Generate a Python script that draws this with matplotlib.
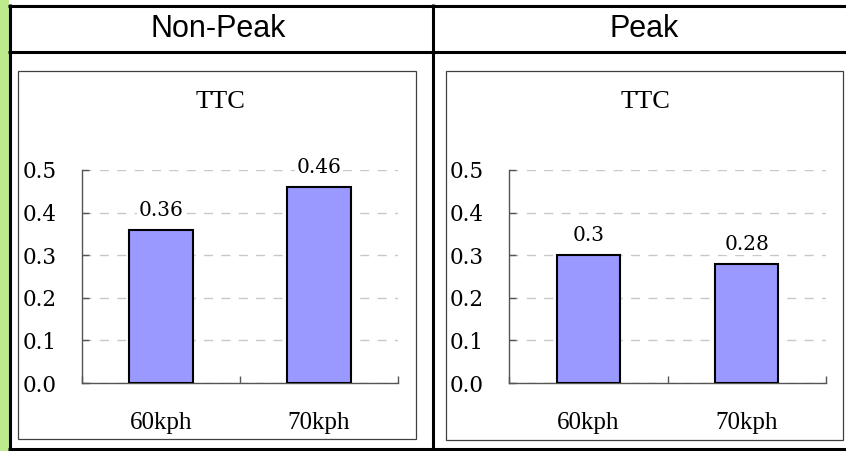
import matplotlib
matplotlib.use("Agg")
import matplotlib.pyplot as plt
from matplotlib.lines import Line2D
from matplotlib.patches import Rectangle

# Data
categories = ["60kph", "70kph"]
panel_titles = ["Non-Peak", "Peak"]
chart_title = "TTC"
ttc_nonpeak = [0.36, 0.46]
ttc_peak = [0.30, 0.28]
value_labels_nonpeak = ["0.36", "0.46"]
value_labels_peak = ["0.3", "0.28"]
y_ticks = [0.0, 0.1, 0.2, 0.3, 0.4, 0.5]

W, H = 846, 451
fig = plt.figure(figsize=(W / 100, H / 100), dpi=100)
fig.patch.set_facecolor("white")


def fx(px):
    return px / W


def fy(py):
    return 1 - py / H


# Green margin strip on the left
fig.add_artist(Rectangle((0, 0), fx(8.5), 1, transform=fig.transFigure,
                         facecolor="#BEEA8E", edgecolor="none", zorder=0))


def hline(y, x0, x1, lw=2.2, color="black"):
    fig.add_artist(Line2D([fx(x0), fx(x1)], [fy(y), fy(y)], transform=fig.transFigure,
                          color=color, linewidth=lw, solid_capstyle="butt", zorder=5))


def vline(x, y0, y1, lw=2.2, color="black"):
    fig.add_artist(Line2D([fx(x), fx(x)], [fy(y0), fy(y1)], transform=fig.transFigure,
                          color=color, linewidth=lw, solid_capstyle="butt", zorder=5))


# Table grid
hline(5.5, 8, 846)
hline(51.5, 8, 846)
hline(448.5, 8, 846)
vline(9.8, 4, 451)
vline(432.5, 4, 450)

# Column headers
fig.text(fx(218), fy(29), panel_titles[0], ha="center", va="center",
         fontsize=22, family="Liberation Sans")
fig.text(fx(644), fy(29), panel_titles[1], ha="center", va="center",
         fontsize=22, family="Liberation Sans")

# Chart frames
for (x0, x1, y0, y1) in [(18, 416, 71, 439), (446, 843, 71, 440)]:
    fig.add_artist(Rectangle((fx(x0), fy(y1)), fx(x1 - x0), (y1 - y0) / H,
                             transform=fig.transFigure, facecolor="none",
                             edgecolor="#404040", linewidth=0.9, zorder=4))


def draw_panel(rect, values, labels, title_x):
    ax = fig.add_axes(rect)
    ax.set_xlim(0, 2)
    ax.set_ylim(0, 0.5)
    pos = [i + 0.5 for i in range(len(categories))]
    ax.bar(pos, values, width=0.4, color="#9999FF", edgecolor="black",
           linewidth=1.5, zorder=3)
    ax.set_axisbelow(True)
    ax.yaxis.grid(True, color="#C8C8C8", linewidth=1.0, dashes=(6.5, 6))
    ax.xaxis.grid(False)
    for s in ["top", "right"]:
        ax.spines[s].set_visible(False)
    for s in ["left", "bottom"]:
        ax.spines[s].set_color("#555555")
        ax.spines[s].set_linewidth(1.0)
    ax.set_yticks(y_ticks)
    ax.set_yticklabels([f"{t:.1f}" for t in y_ticks], family="DejaVu Serif", fontsize=15.5)
    ax.tick_params(axis="y", direction="in", length=5, width=1, color="#555555", pad=18)
    ax.set_xticks([0, 1, 2])
    ax.set_xticklabels([])
    ax.tick_params(axis="x", which="major", direction="in", length=5, width=1, color="#555555")
    ax.set_xticks(pos, minor=True)
    ax.set_xticklabels(categories, minor=True, family="Liberation Serif", fontsize=18)
    ax.tick_params(axis="x", which="minor", length=0, pad=21)
    for x, v, lab in zip(pos, values, labels):
        ax.annotate(lab, (x, v), xytext=(0, 14), textcoords="offset points",
                    ha="center", va="center", family="DejaVu Serif", fontsize=14.5,
                    bbox=dict(facecolor="white", edgecolor="none", pad=1),
                    annotation_clip=False, zorder=4)
    fig.text(fx(title_x), fy(102.5), chart_title, ha="center", va="center",
             family="Liberation Serif", fontsize=19)
    return ax


draw_panel([fx(82), 68 / H, 316 / W, 213 / H], ttc_nonpeak, value_labels_nonpeak, 220)
draw_panel([fx(509), 68 / H, 317 / W, 213 / H], ttc_peak, value_labels_peak, 645)

fig.savefig("out.png", dpi=100)
